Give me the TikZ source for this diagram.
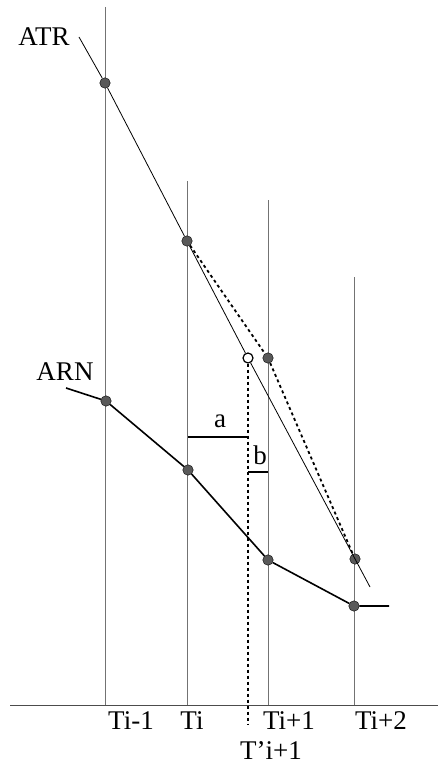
\documentclass[tikz,border=0pt]{standalone}
\usepackage{fontspec}
\setmainfont{Liberation Serif}
\usetikzlibrary{positioning,calc}

\begin{document}
\begin{tikzpicture}[x=1pt,y=-1pt,
  sample/.style={circle,draw=black,fill=black!65,inner sep=0pt,
    minimum size=10.5pt},
  projected/.style={circle,draw=black,fill=white,line width=1.2pt,
    inner sep=0pt,minimum size=10pt},
  tick/.style={draw=black!55,line width=.7pt},
  reference/.style={line width=.8pt},
  response/.style={line width=1.6pt},
  estimate/.style={line width=1.8pt,dash pattern=on 3pt off 3pt},
  label/.style={font=\fontsize{27}{30}\selectfont,inner sep=0pt},
  gap/.style={line width=1.1pt}
]
% Page bounds follow the reference margins.
\useasboundingbox (0,0) rectangle (438,765);

% time grid
\coordinate (top-0) at (105,7);
\coordinate (top-1) at (187,181);
\coordinate (top-2) at (268,200);
\coordinate (top-3) at (354,277);
\coordinate (ax-0) at (105,705);
\coordinate (ax-1) at (187,705);
\coordinate (ax-2) at (268,705);
\coordinate (ax-3) at (354,705);
\coordinate (ax-left) at (10,705);
\coordinate (ax-right) at (438,705);
\foreach \k in {0,...,3}
  \draw[tick] (top-\k) -- (ax-\k);
\draw[tick,draw=black!70] (ax-left) -- (ax-right);

\node[label] at (131,721) {Ti-1};
\node[label] at (192,721) {Ti};
\node[label] at (289,721) {Ti+1};
\node[label] at (381,721) {Ti+2};
\node[label] at (271,751) {T'i+1};

% ATR
\node[label] at (44,37) {ATR};
\coordinate (atr-start) at (79,37);
\coordinate (atr-end) at (370,587);
\node[sample] (atr-0) at (105,83) {};
\node[sample] (atr-1) at (187,241) {};
\node[projected] (atr-p) at (248,358) {};
\node[sample] (est-2) at (268,358) {};
\node[sample] (est-3) at (355,559) {};
\draw[reference] (atr-start) -- (atr-0) -- (atr-1) -- (atr-p) -- (atr-end);
\draw[estimate] (atr-1) -- (est-2) -- (est-3);

% ARN
\node[label] at (65,372) {ARN};
\coordinate (arn-start) at (66,388);
\coordinate (arn-end) at (389,606);
\node[sample] (arn-0) at (106,401) {};
\node[sample] (arn-1) at (188,470) {};
\node[sample] (arn-2) at (268,560) {};
\node[sample] (arn-3) at (354,606) {};
\draw[response] (arn-start) -- (arn-0) -- (arn-1) -- (arn-2) -- (arn-3)
  -- (arn-end);

% projected instant
\coordinate (proj-foot) at (248,724);
\draw[estimate] (atr-p) -- (proj-foot);

% offsets a and b
\coordinate (a-left) at (188,437);
\coordinate (a-right) at (248,437);
\coordinate (b-left) at (248,472);
\coordinate (b-right) at (268,472);
\draw[gap] (a-left) -- (a-right);
\draw[gap] (b-left) -- (b-right);
\node[label] at (220,421) {a};
\node[label] at (260,455) {b};
\end{tikzpicture}
\end{document}
